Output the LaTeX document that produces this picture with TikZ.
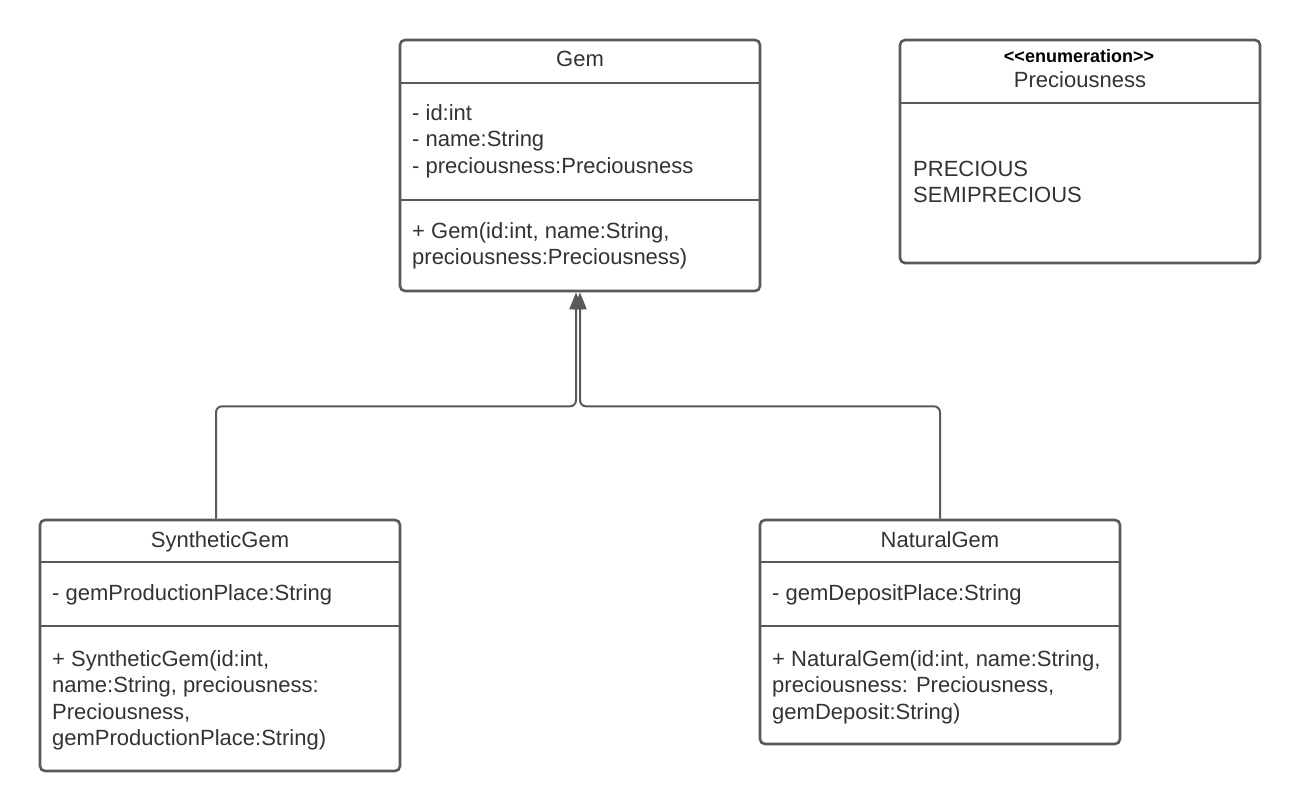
\documentclass[tikz,border=0pt]{standalone}
\usepackage{fontspec}
\setmainfont{Liberation Sans}
\usetikzlibrary{arrows.meta}
\definecolor{edge}{HTML}{595959}
\definecolor{ink}{HTML}{333333}
\tikzset{
  cls/.style={draw=edge,line width=2.6pt,rounded corners=5pt,fill=white,minimum width=360pt,inner sep=0pt},
  div/.style={draw=edge,line width=2.6pt},
  txt/.style={anchor=base west,inner sep=0pt,text=ink,font=\fontsize{22}{26}\selectfont},
  ctxt/.style={txt,anchor=base},
  stereo/.style={anchor=base,inner sep=0pt,text=black,font=\fontsize{18}{20}\selectfont\bfseries},
  conn/.style={draw=edge,line width=2pt,rounded corners=6pt,-{Triangle[length=17pt,width=13pt]}},
}
\newcommand{\tline}[4]{\node[txt] (#1) at (#2,#3) {#4};}
\begin{document}
\begin{tikzpicture}[x=1pt,y=-1pt]
\useasboundingbox (0,0) rectangle (1300,811);

% Gem
\node[cls,minimum height=251pt] (gem) at (580,165.5) {};
\draw[div] (gem.west |- 0,83) -- (gem.east |- 0,83);
\draw[div] (gem.west |- 0,200) -- (gem.east |- 0,200);
\node[ctxt] (gemT) at (580,66.5) {Gem};
\tline{g1}{412}{120}{- id:int}
\tline{g2}{412}{146.5}{- name:String}
\tline{g3}{412}{173}{- preciousness:Preciousness}
\tline{g4}{412}{238}{+ Gem(id:int, name:String,}
\tline{g5}{412}{264.5}{preciousness:Preciousness)}

% Preciousness
\node[cls,minimum height=223pt] (prec) at (1080,151.5) {};
\draw[div] (prec.west |- 0,103) -- (prec.east |- 0,103);
\node[stereo] (precS) at (1079,62) {<{}<enumeration>{}>};
\node[ctxt] (precT) at (1080,87.5) {Preciousness};
\tline{p1}{913}{176}{PRECIOUS}
\tline{p2}{913}{202.5}{SEMIPRECIOUS}

% SyntheticGem
\node[cls,minimum height=251pt] (syn) at (220,645.5) {};
\draw[div] (syn.west |- 0,562) -- (syn.east |- 0,562);
\draw[div] (syn.west |- 0,626) -- (syn.east |- 0,626);
\node[ctxt] (synT) at (220,547) {SyntheticGem};
\tline{s1}{52}{600}{- gemProductionPlace:String}
\tline{s2}{52}{666}{+ SyntheticGem(id:int,}
\tline{s3}{52}{692.5}{name:String, preciousness:}
\tline{s4}{52}{719}{Preciousness,}
\tline{s5}{52}{745.5}{gemProductionPlace:String)}

% NaturalGem
\node[cls,minimum height=224pt] (nat) at (940,632) {};
\draw[div] (nat.west |- 0,562) -- (nat.east |- 0,562);
\draw[div] (nat.west |- 0,626) -- (nat.east |- 0,626);
\node[ctxt] (natT) at (940,547) {NaturalGem};
\tline{n1}{772}{600}{- gemDepositPlace:String}
\tline{n2}{772}{666}{+ NaturalGem(id:int, name:String,}
\tline{n3}{772}{692.5}{preciousness: Preciousness,}
\tline{n4}{772}{719}{gemDeposit:String)}

% Generalisations
\draw[conn] ([xshift=-4pt]syn.north) |- ([xshift=-4pt,yshift=-114pt]gem.south) -- ([xshift=-4pt]gem.south);
\draw[conn] (nat.north) |- ([yshift=-114pt]gem.south) -- (gem.south);
\end{tikzpicture}
\end{document}
